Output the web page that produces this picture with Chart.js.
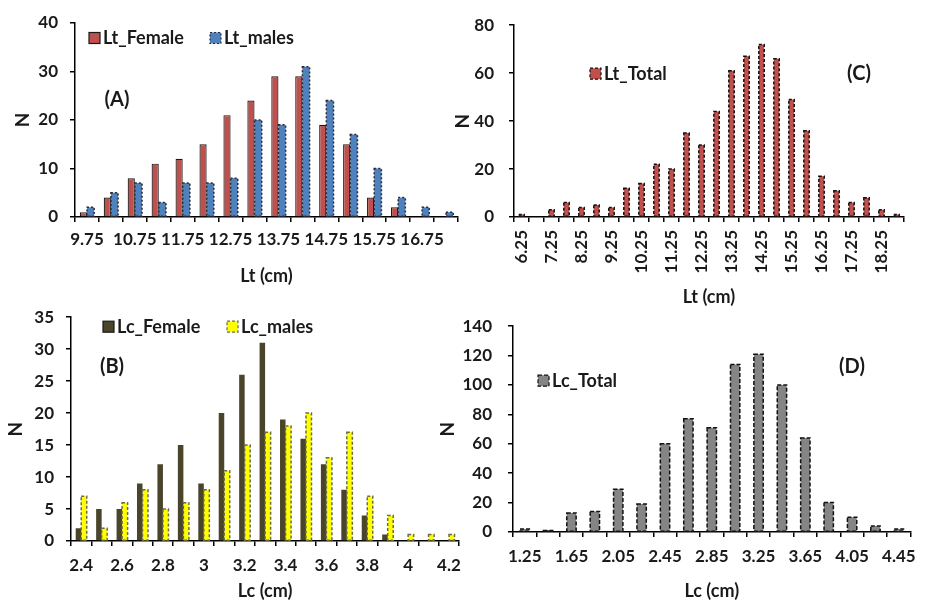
<!DOCTYPE html>
<html>
<head>
<meta charset="utf-8">
<script src="https://cdn.jsdelivr.net/npm/chart.js@4.4.1/dist/chart.umd.min.js"></script>
<style>
  body { margin: 0; background: #fff; width: 925px; height: 604px; overflow: hidden; position: relative; }
  canvas { position: absolute; }
</style>
</head>
<body>
<canvas id="chartA" width="470" height="295" style="left:0px;top:0px"></canvas>
<canvas id="chartC" width="475" height="310" style="left:450px;top:0px"></canvas>
<canvas id="chartB" width="470" height="309" style="left:0px;top:295px"></canvas>
<canvas id="chartD" width="493" height="304" style="left:432px;top:300px"></canvas>
<script>
// (A) total length by sex
const ltBins = ['9.75', '10.25', '10.75', '11.25', '11.75', '12.25', '12.75', '13.25',
                '13.75', '14.25', '14.75', '15.25', '15.75', '16.25', '16.75', '17.25'];
const ltFemale = [1, 4, 8, 11, 12, 15, 21, 24, 29, 29, 19, 15, 4, 2, 0, 0];
const ltMales = [2, 5, 7, 3, 7, 7, 8, 20, 19, 31, 24, 17, 10, 4, 2, 1];

// (C) total length, all fish
const ltTotalBins = ['6.25', '6.75', '7.25', '7.75', '8.25', '8.75', '9.25', '9.75', '10.25',
                     '10.75', '11.25', '11.75', '12.25', '12.75', '13.25', '13.75', '14.25',
                     '14.75', '15.25', '15.75', '16.25', '16.75', '17.25', '17.75', '18.25', '18.75'];
const ltTotal = [1, 0, 3, 6, 4, 5, 4, 12, 14, 22, 20, 35, 30, 44, 61, 67, 72, 66, 49, 36, 17, 11, 6, 8, 3, 1];

// (B) carapace length by sex
const lcBins = ['2.4', '2.5', '2.6', '2.7', '2.8', '2.9', '3', '3.1', '3.2', '3.3',
                '3.4', '3.5', '3.6', '3.7', '3.8', '3.9', '4', '4.1', '4.2'];
const lcFemale = [2, 5, 5, 9, 12, 15, 9, 20, 26, 31, 19, 16, 12, 8, 4, 1, 0, 0, 0];
const lcMales = [7, 2, 6, 8, 5, 6, 8, 11, 15, 17, 18, 20, 13, 17, 7, 4, 1, 1, 1];

// (D) carapace length, all fish
const lcTotalBins = ['1.25', '1.45', '1.65', '1.85', '2.05', '2.25', '2.45', '2.65', '2.85',
                     '3.05', '3.25', '3.45', '3.65', '3.85', '4.05', '4.25', '4.45'];
const lcTotal = [2, 1, 13, 14, 29, 19, 60, 77, 71, 114, 121, 100, 64, 20, 10, 4, 2];

Chart.defaults.font.family = 'Lato';
Chart.defaults.font.size = 17;
Chart.defaults.font.weight = 'bold';
Chart.defaults.color = '#1a1a1a';

// stroke a dashed outline round bars that ask for one
const dashedBars = {
    id: 'dashedBars',
    afterDatasetsDraw(chart) {
        const ctx = chart.ctx;
        chart.data.datasets.forEach((ds, i) => {
            if (!ds.dash) return;
            ctx.save();
            ctx.strokeStyle = ds.dashColor;
            ctx.lineWidth = 1.5;
            ctx.setLineDash(ds.dash);
            chart.getDatasetMeta(i).data.forEach(bar => {
                const { x, y, base, width } = bar.getProps(['x', 'y', 'base', 'width'], true);
                if (base - y < 0.5) return;
                ctx.strokeRect(x - width / 2, y, width, base - y);
            });
            ctx.restore();
        });
    }
};

// Excel-like legend sitting inside the plot, plus the panel letter
const insideLegend = {
    id: 'insideLegend',
    afterDraw(chart, args, opts) {
        const { ctx, chartArea } = chart;
        ctx.save();
        ctx.font = 'bold 18px Lato';
        ctx.textBaseline = 'middle';
        chart.data.datasets.forEach((ds, i) => {
            const bx = chartArea.left + opts.xs[i];
            const by = chartArea.top + opts.y;
            ctx.fillStyle = ds.backgroundColor;
            ctx.fillRect(bx, by - 5, 11, 11);
            ctx.strokeStyle = ds.dash ? ds.dashColor : '#1a1a1a';
            ctx.lineWidth = 1.2;
            ctx.setLineDash(ds.dash || []);
            ctx.strokeRect(bx, by - 5, 11, 11);
            ctx.setLineDash([]);
            ctx.fillStyle = '#1a1a1a';
            ctx.fillText(ds.label, bx + 14, by + 1);
        });
        ctx.font = 'bold 20px Lato';
        ctx.textAlign = 'center';
        ctx.fillText(opts.tag, chartArea.left + opts.tagX, chartArea.top + opts.tagY);
        ctx.restore();
    }
};

function axes(o) {
    return {
        x: {
            grid: { drawOnChartArea: false, color: '#000', lineWidth: 1.5, tickLength: 5, offset: true },
            border: { color: '#000', width: 1.5 },
            ticks: {
                autoSkip: false, minRotation: o.rot, maxRotation: o.rot, padding: o.xPad,
                callback(v, i) { return i % 2 === 0 ? this.getLabelForValue(v) : ''; }
            },
            title: { display: true, text: o.xTitle, padding: 0, font: { size: 18 } },
            afterFit: s => { s.height = o.xH; }
        },
        y: {
            min: 0, max: o.yMax,
            grid: { drawOnChartArea: false, color: '#000', lineWidth: 1.5, tickLength: 5 },
            border: { color: '#000', width: 1.5 },
            ticks: { stepSize: o.yStep, padding: o.yPad },
            title: { display: true, text: 'N', padding: 0, font: { size: 19 } },
            afterFit: s => { s.width = o.yW; }
        }
    };
}

const common = { responsive: false, animation: false, devicePixelRatio: 1 };

// Panel A
new Chart(document.getElementById('chartA'), {
    type: 'bar',
    data: {
        labels: ltBins,
        datasets: [
            { label: 'Lt_Female', data: ltFemale, backgroundColor: '#c0504d', borderColor: '#1a1a1a', borderWidth: 1.2 },
            { label: 'Lt_males', data: ltMales, backgroundColor: '#4f81bd', borderWidth: 0, dash: [2, 2], dashColor: '#2b2b3a' }
        ]
    },
    options: {
        ...common,
        layout: { padding: { left: 11, right: 12, top: 23, bottom: 8 } },
        datasets: { bar: { barPercentage: 1, categoryPercentage: 0.6 } },
        scales: axes({ xTitle: 'Lt (cm)', rot: 0, xPad: 7, xH: 70, yMax: 40, yStep: 10, yPad: 12, yW: 64 }),
        plugins: {
            legend: { display: false },
            tooltip: { enabled: false },
            insideLegend: { xs: [14, 135], y: 14.5, tag: '(A)', tagX: 42, tagY: 77 }
        }
    },
    plugins: [dashedBars, insideLegend]
});

// Panel C
new Chart(document.getElementById('chartC'), {
    type: 'bar',
    data: {
        labels: ltTotalBins,
        datasets: [
            { label: 'Lt_Total', data: ltTotal, backgroundColor: '#c0504d', borderWidth: 0, dash: [3, 2], dashColor: '#111' }
        ]
    },
    options: {
        ...common,
        layout: { padding: { left: 1, right: 4, top: 20, bottom: 2 } },
        datasets: { bar: { barPercentage: 1, categoryPercentage: 0.36 } },
        scales: axes({ xTitle: 'Lt (cm)', rot: 90, xPad: 8, xH: 91, yMax: 80, yStep: 20, yPad: 15, yW: 63 }),
        plugins: {
            legend: { display: false },
            tooltip: { enabled: false },
            insideLegend: { xs: [76], y: 48, tag: '(C)', tagX: 345, tagY: 48 }
        }
    },
    plugins: [dashedBars, insideLegend]
});

// Panel B
new Chart(document.getElementById('chartB'), {
    type: 'bar',
    data: {
        labels: lcBins,
        datasets: [
            { label: 'Lc_Female', data: lcFemale, backgroundColor: '#4a452a', borderWidth: 0 },
            { label: 'Lc_males', data: lcMales, backgroundColor: '#ffff00', borderWidth: 0, dash: [3, 2], dashColor: '#6b6b4a' }
        ]
    },
    options: {
        ...common,
        layout: { padding: { left: 4, right: 5, top: 9, bottom: 2 } },
        datasets: { bar: { barPercentage: 1, categoryPercentage: 0.54 } },
        scales: axes({ xTitle: 'Lc (cm)', rot: 0, xPad: 9, xH: 61, yMax: 35, yStep: 5, yPad: 12, yW: 67 }),
        plugins: {
            legend: { display: false },
            tooltip: { enabled: false },
            insideLegend: { xs: [32, 156], y: 9, tag: '(B)', tagX: 41, tagY: 49 }
        }
    },
    plugins: [dashedBars, insideLegend]
});

// Panel D
new Chart(document.getElementById('chartD'), {
    type: 'bar',
    data: {
        labels: lcTotalBins,
        datasets: [
            { label: 'Lc_Total', data: lcTotal, backgroundColor: '#858585', borderWidth: 0, dash: [4, 2], dashColor: '#111' }
        ]
    },
    options: {
        ...common,
        layout: { padding: { left: 4, right: 11, top: 10, bottom: 2 } },
        datasets: { bar: { barPercentage: 1, categoryPercentage: 0.4 } },
        scales: axes({ xTitle: 'Lc (cm)', rot: 0, xPad: 9, xH: 70, yMax: 140, yStep: 20, yPad: 16, yW: 77 }),
        plugins: {
            legend: { display: false },
            tooltip: { enabled: false },
            insideLegend: { xs: [25], y: 54, tag: '(D)', tagX: 339, tagY: 40 }
        }
    },
    plugins: [dashedBars, insideLegend]
});
</script>
</body>
</html>
